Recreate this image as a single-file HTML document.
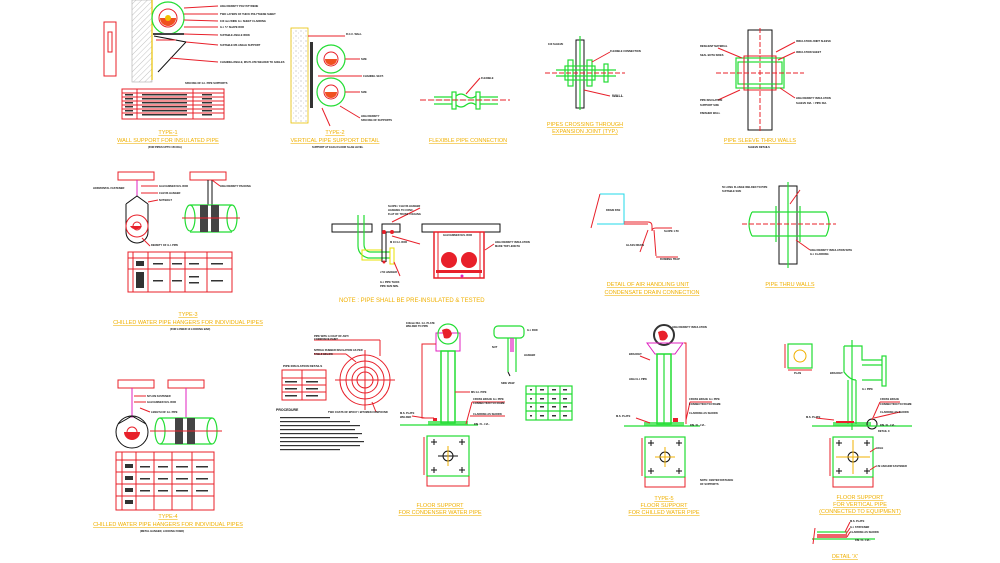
<!DOCTYPE html>
<html><head><meta charset="utf-8"><style>
html,body{margin:0;padding:0;background:#fff;}
svg{display:block}
.r{stroke:#e8202a;fill:none;stroke-width:1}
.g{stroke:#22dd33;fill:none;stroke-width:1.2}
.k{stroke:#111;fill:none;stroke-width:1}
.m{stroke:#e020c0;fill:none;stroke-width:1}
.c{stroke:#22d8e8;fill:none;stroke-width:1}
.t{font-family:"Liberation Sans",sans-serif;font-size:5.5px;fill:#f0b000;text-anchor:middle;text-decoration:underline}
.s{font-family:"Liberation Sans",sans-serif;font-size:2.6px;fill:#111;font-weight:bold}
.n{font-family:"Liberation Sans",sans-serif;font-size:6px;fill:#f0b000;}
</style></head><body>
<svg width="1000" height="563" viewBox="0 0 1000 563" xmlns="http://www.w3.org/2000/svg">
<defs>
<pattern id="h" width="4" height="4" patternUnits="userSpaceOnUse" patternTransform="rotate(45)"><line x1="0" y1="0" x2="0" y2="4" stroke="#999" stroke-width="0.6"/></pattern>
<pattern id="d" width="5" height="5" patternUnits="userSpaceOnUse"><circle cx="1" cy="1" r="0.5" fill="#888"/><circle cx="3.5" cy="3" r="0.4" fill="#aaa"/></pattern>
</defs>

<!-- ===== TYPE-1 ===== -->
<rect x="104" y="22" width="12" height="54" class="r"/><rect x="108" y="32" width="4" height="20" class="r"/>
<rect x="132" y="0" width="20" height="82" fill="url(#h)" stroke="#aaa" stroke-width="0.6"/>
<line x1="152" y1="0" x2="152" y2="80" stroke="#e8c000" stroke-width="1.2"/>
<circle cx="168" cy="18" r="16" fill="#ddd" class="g"/><circle cx="168" cy="18" r="9" fill="#fff" class="r"/><path d="M160 18 a8 8 0 0 0 16 0z" fill="#f05020"/><circle cx="168" cy="18" r="3" fill="#f0c000"/>
<rect x="153" y="33" width="31" height="2" fill="#444"/>
<path d="M154 36 L186 42 L158 72" class="k" stroke-width="2"/><path d="M156 40 L176 40" class="r"/>
<g class="r"><line x1="184" y1="8" x2="218" y2="6"/><line x1="184" y1="14" x2="218" y2="14"/><line x1="184" y1="20" x2="218" y2="21"/><line x1="184" y1="27" x2="218" y2="27"/><line x1="184" y1="34" x2="218" y2="35"/><line x1="186" y1="42" x2="218" y2="45"/><line x1="170" y1="58" x2="218" y2="62"/></g>
<g class="s"><text x="220" y="7">HIGH DENSITY POLYSTYRENE</text><text x="220" y="15">TWO LAYERS OF THICK POLYTHENE SHEET</text><text x="220" y="22">100 mm WIDE G.I. SHEET CLADDING</text><text x="220" y="28">G.I. 'U' SHAPE ROD</text><text x="220" y="36">SUITABLE ANGLE IRON</text><text x="220" y="46">SUITABLE MS ANGLE SUPPORT</text><text x="220" y="63">CHANNEL/ANGLE, MS PLATE WELDED TO ANGLES</text></g>
<text class="s" x="185" y="84">SPACING OF G.I. PIPE SUPPORTS</text>
<g class="r"><rect x="122" y="89" width="102" height="30"/><line x1="122" y1="93" x2="224" y2="93"/><line x1="122" y1="97" x2="224" y2="97"/><line x1="122" y1="101" x2="224" y2="101"/><line x1="122" y1="105" x2="224" y2="105"/><line x1="122" y1="109" x2="224" y2="109"/><line x1="122" y1="113" x2="224" y2="113"/><line x1="137" y1="89" x2="137" y2="119"/><line x1="193" y1="89" x2="193" y2="119"/></g>
<g fill="#333"><rect x="125" y="94" width="8" height="1.5"/><rect x="125" y="98" width="8" height="1.5"/><rect x="125" y="102" width="8" height="1.5"/><rect x="125" y="106" width="8" height="1.5"/><rect x="125" y="110" width="8" height="1.5"/><rect x="125" y="114" width="8" height="1.5"/><rect x="142" y="94" width="45" height="1.5"/><rect x="142" y="98" width="45" height="1.5"/><rect x="142" y="102" width="45" height="1.5"/><rect x="142" y="106" width="45" height="1.5"/><rect x="142" y="110" width="45" height="1.5"/><rect x="142" y="114" width="45" height="1.5"/><rect x="202" y="94" width="10" height="1.5"/><rect x="202" y="98" width="10" height="1.5"/><rect x="202" y="102" width="10" height="1.5"/><rect x="202" y="106" width="10" height="1.5"/><rect x="202" y="110" width="10" height="1.5"/><rect x="202" y="114" width="10" height="1.5"/></g>
<text class="t" x="168" y="134">TYPE-1</text><text class="t" x="168" y="142">WALL SUPPORT FOR INSULATED PIPE</text><text class="s" x="148" y="148">(FOR PIPES UPTO 150 DIA)</text>

<!-- ===== TYPE-2 ===== -->
<rect x="291" y="28" width="17" height="95" fill="url(#d)" stroke="#e8c000" stroke-width="0.8"/>
<rect x="310" y="42" width="3" height="66" fill="#333"/>
<circle cx="331" cy="59" r="14" fill="#ddd" class="g"/><circle cx="331" cy="59" r="7" fill="#fff" class="r"/><path d="M325 59 a6 6 0 0 0 12 0z" fill="#f05020"/>
<circle cx="331" cy="92" r="14" fill="#ddd" class="g"/><circle cx="331" cy="92" r="7" fill="#fff" class="r"/><path d="M325 92 a6 6 0 0 0 12 0z" fill="#f05020"/>
<g class="r"><line x1="308" y1="36" x2="345" y2="36"/><line x1="345" y1="59" x2="360" y2="59"/><line x1="318" y1="76" x2="362" y2="76"/><line x1="345" y1="92" x2="360" y2="92"/><line x1="340" y1="106" x2="360" y2="118"/><line x1="322" y1="108" x2="330" y2="126"/></g>
<g class="s"><text x="346" y="35">R.C.C. WALL</text><text x="361" y="60">SIZE</text><text x="363" y="77">CHANNEL SECT.</text><text x="361" y="93">SIZE</text><text x="361" y="117">HIGH DENSITY</text><text x="361" y="121">SPACING OF SUPPORTS</text></g>
<text class="t" x="335" y="134">TYPE-2</text><text class="t" x="335" y="142">VERTICAL PIPE SUPPORT DETAIL</text><text class="s" x="312" y="148">SUPPORT AT EACH FLOOR SLAB LEVEL</text>

<!-- ===== FLEXIBLE ===== -->
<line x1="434" y1="100" x2="498" y2="100" class="g" stroke-width="6" stroke="#22dd33" opacity="0.25"/>
<g class="g"><line x1="434" y1="97" x2="452" y2="97"/><line x1="434" y1="104" x2="452" y2="104"/><line x1="480" y1="97" x2="498" y2="97"/><line x1="480" y1="104" x2="498" y2="104"/><rect x="452" y="92" width="4" height="17"/><rect x="476" y="92" width="4" height="17"/><path d="M456 96 q5 -4 10 0 q5 4 10 0 M456 105 q5 4 10 0 q5 -4 10 0"/></g>
<line x1="420" y1="100" x2="510" y2="100" class="r" stroke-dasharray="6 2"/>
<line x1="466" y1="94" x2="480" y2="78" class="r"/><text class="s" x="481" y="79">FLEXIBLE</text>
<text class="t" x="468" y="142">FLEXIBLE PIPE CONNECTION</text>

<!-- ===== PIPES CROSSING ===== -->
<rect x="576" y="40" width="8" height="68" fill="url(#h)" class="k"/>
<g class="g"><rect x="565" y="66" width="30" height="14"/><rect x="568" y="60" width="5" height="26"/><rect x="587" y="60" width="5" height="26"/><line x1="556" y1="70" x2="616" y2="70"/><line x1="556" y1="76" x2="616" y2="76"/><rect x="604" y="64" width="4" height="18"/></g>
<line x1="580" y1="36" x2="580" y2="110" class="g"/><line x1="545" y1="73" x2="625" y2="73" class="r" stroke-dasharray="5 2"/>
<g class="r"><line x1="592" y1="62" x2="610" y2="52"/><line x1="584" y1="90" x2="610" y2="96"/></g>
<g class="s"><text x="610" y="52">FLEXIBLE CONNECTION</text><text x="612" y="97" style="font-size:4px">WALL</text><text x="548" y="45">100 SLEEVE</text></g>
<text class="t" x="585" y="126">PIPES CROSSING THROUGH</text><text class="t" x="585" y="133">EXPANSION JOINT (TYP.)</text>

<!-- ===== PIPE SLEEVE THRU WALLS ===== -->
<rect x="748" y="30" width="24" height="100" fill="url(#h)" class="k"/>
<line x1="760" y1="28" x2="760" y2="132" class="r" stroke-dasharray="5 2"/>
<rect x="736" y="58" width="48" height="30" fill="#c8c8c8" class="g"/>
<rect x="738" y="62" width="44" height="22" fill="#fff" class="g" stroke-width="2"/>
<rect x="744" y="56" width="32" height="34" fill="none" class="r"/>
<line x1="716" y1="73" x2="804" y2="73" class="r" stroke-dasharray="5 2"/>
<g class="r"><line x1="776" y1="52" x2="795" y2="42"/><line x1="778" y1="60" x2="795" y2="52"/><line x1="742" y1="58" x2="718" y2="48"/><line x1="780" y1="88" x2="795" y2="98"/><line x1="740" y1="90" x2="718" y2="100"/></g>
<g class="s"><text x="796" y="42">INSULATION JOINT SLEEVE</text><text x="796" y="53">INSULATION SHEET</text><text x="700" y="47">RESILIENT MATERIAL</text><text x="700" y="56">SEAL BOTH SIDES</text><text x="796" y="99">HIGH DENSITY INSULATION</text><text x="796" y="104">SLEEVE DIA. = PIPE DIA.</text><text x="700" y="101">PIPE INSULATION</text><text x="700" y="106">SUPPORT SIZE</text><text x="700" y="114">FINISHED WALL</text></g>
<text class="t" x="760" y="142">PIPE SLEEVE THRU WALLS</text><text class="s" x="748" y="148">SLEEVE DETAILS</text>

<!-- ===== TYPE-3 ===== -->
<rect x="118" y="172" width="36" height="8" fill="url(#d)" class="r"/>
<rect x="190" y="172" width="36" height="8" fill="url(#d)" class="r"/>
<line x1="137" y1="180" x2="137" y2="196" class="m" stroke-width="2"/>
<path d="M126 204 L137 196 L148 204" class="k"/>
<path d="M126 204 L126 232 A11 11 0 0 0 148 232 L148 204" class="k"/>
<circle cx="137" cy="226" r="11" fill="#ddd" class="r"/><path d="M130 226 a7 7 0 0 0 12 0z" fill="#e8202a"/><circle cx="137" cy="226" r="4" fill="#fff" class="r"/>
<line x1="208" y1="180" x2="208" y2="205" class="k"/><line x1="212" y1="180" x2="212" y2="205" class="k"/>
<g class="g"><line x1="190" y1="205" x2="232" y2="205"/><line x1="190" y1="232" x2="232" y2="232"/><ellipse cx="190" cy="218" rx="5" ry="13"/><ellipse cx="232" cy="218" rx="5" ry="13"/></g>
<rect x="200" y="205" width="8" height="27" fill="#444"/><rect x="211" y="205" width="8" height="27" fill="#444"/>
<line x1="182" y1="218" x2="240" y2="218" class="r"/>
<g class="r"><line x1="141" y1="186" x2="158" y2="186"/><line x1="141" y1="193" x2="158" y2="193"/><line x1="148" y1="202" x2="158" y2="200"/><line x1="212" y1="180" x2="220" y2="186"/><line x1="142" y1="238" x2="150" y2="246"/></g>
<g class="s"><text x="93" y="189">HORIZONTAL FASTENER</text><text x="159" y="187">GALVANISED M.S. ROD</text><text x="159" y="194">CLEVIS HANGER</text><text x="159" y="201">NUT/BOLT</text><text x="220" y="187">HIGH DENSITY PACKING</text><text x="151" y="246">DENSITY OF G.I. PIPE</text></g>
<g class="r"><rect x="128" y="252" width="104" height="40"/><line x1="128" y1="258" x2="232" y2="258"/><line x1="128" y1="269" x2="232" y2="269"/><line x1="133" y1="252" x2="133" y2="292"/><line x1="148" y1="252" x2="148" y2="292"/><line x1="170" y1="252" x2="170" y2="292"/><line x1="185" y1="252" x2="185" y2="292"/><line x1="207" y1="252" x2="207" y2="292"/></g>
<g fill="#333"><rect x="136" y="261" width="8" height="5"/><rect x="136" y="272" width="8" height="16"/><rect x="153" y="263" width="10" height="1.5"/><rect x="153" y="280" width="10" height="1.5"/><rect x="172" y="263" width="10" height="1.5"/><rect x="172" y="280" width="10" height="1.5"/><rect x="189" y="263" width="10" height="1.5"/><rect x="189" y="276" width="10" height="1.5"/><rect x="189" y="282" width="10" height="1.5"/><rect x="211" y="263" width="12" height="1.5"/><rect x="211" y="280" width="12" height="1.5"/></g>
<text class="t" x="188" y="316">TYPE-3</text><text class="t" x="188" y="324">CHILLED WATER PIPE HANGERS FOR INDIVIDUAL PIPES</text><text class="s" x="170" y="330">(FOR LOWER 10 LOCKING BAR)</text>

<!-- ===== NOTE / center hanger ===== -->
<rect x="332" y="224" width="40" height="8" fill="url(#d)" class="k"/>
<rect x="382" y="224" width="18" height="8" fill="url(#d)" class="k"/>
<rect x="422" y="224" width="78" height="8" fill="url(#d)" class="k"/>
<g class="g"><path d="M358 215 L358 246 Q358 255 368 258 L390 258"/><path d="M364 215 L364 244 Q364 251 370 252 L390 252"/></g>
<rect x="362" y="250" width="20" height="10" class="r" style="stroke:#e8e000"/>
<rect x="390" y="248" width="4" height="16" class="r" style="stroke:#e8e000"/>
<line x1="382" y1="232" x2="382" y2="262" class="k"/><line x1="386" y1="232" x2="386" y2="262" class="k"/>
<circle cx="384" cy="232" r="2" fill="#e8202a"/><circle cx="392" cy="232" r="2" fill="#e8202a"/><circle cx="384" cy="262" r="1.5" fill="#e8202a"/>
<g class="r"><rect x="434" y="232" width="50" height="46" stroke-width="1.5"/><line x1="438" y1="232" x2="438" y2="278"/><line x1="480" y1="232" x2="480" y2="278"/></g>
<circle cx="449" cy="260" r="8" fill="#e8202a"/><circle cx="449" cy="260" r="4" fill="#fff" class="r"/>
<circle cx="469" cy="260" r="8" fill="#e8202a"/><circle cx="469" cy="260" r="4" fill="#fff" class="r"/>
<rect x="436" y="270" width="46" height="3" fill="#e8202a"/>
<circle cx="462" cy="276" r="1.5" fill="#e020c0"/>
<g class="r"><line x1="392" y1="222" x2="420" y2="208"/><line x1="392" y1="236" x2="420" y2="244"/><line x1="485" y1="250" x2="494" y2="244"/><line x1="394" y1="262" x2="400" y2="276"/></g>
<g class="s"><text x="388" y="207">SLOPE / CLEVIS HANGER</text><text x="388" y="211">HANGING TO CONC.</text><text x="388" y="215">FLAT OF TRUSS / CEILING</text><text x="443" y="236">GALVANISED M.S. ROD</text><text x="495" y="243">HIGH DENSITY INSULATION</text><text x="495" y="247">MADE TOP LENGTH</text><text x="380" y="273">J 50 HANGER</text><text x="380" y="283">G.I. PIPE THICK</text><text x="380" y="287">PIPE SIZE MIN.</text><text x="390" y="243">M 10 G.I. ROD</text></g>
<text class="n" x="339" y="302">NOTE : PIPE SHALL BE PRE-INSULATED &amp; TESTED</text>

<!-- ===== AHU DRAIN ===== -->
<path d="M600 194 L591 228" class="r"/>
<path d="M600 194 L624 194 L624 224 L597 224" class="c"/>
<path d="M624 222 L648 222 Q652 222 652 226 L652 231 Q652 228 656 228 L672 228" class="r"/>
<path d="M624 224 L648 224" class="r"/>
<line x1="648" y1="230" x2="640" y2="252" class="r"/><line x1="654" y1="230" x2="656" y2="256" class="r"/>
<line x1="656" y1="257" x2="678" y2="257" class="r"/>
<g class="s"><text x="606" y="211">DRAIN PAN</text><text x="664" y="232">SLOPE 1:50</text><text x="626" y="246">GLASS DRAIN</text><text x="660" y="260">RUNNING TRAP</text></g>
<text class="t" x="648" y="286">DETAIL OF AIR HANDLING UNIT</text><text class="t" x="652" y="294">CONDENSATE DRAIN CONNECTION</text>

<!-- ===== PIPE THRU WALLS ===== -->
<rect x="779" y="186" width="18" height="78" fill="url(#h)" class="k"/>
<g class="g"><line x1="752" y1="212" x2="826" y2="212"/><line x1="752" y1="236" x2="826" y2="236"/><path d="M752 212 q-6 12 0 24 M826 212 q6 12 0 24"/><line x1="776" y1="206" x2="776" y2="242"/><line x1="800" y1="206" x2="800" y2="242"/></g>
<line x1="788" y1="182" x2="788" y2="268" class="g"/><line x1="742" y1="224" x2="836" y2="224" class="r" stroke-dasharray="5 2"/>
<g class="r"><line x1="790" y1="204" x2="800" y2="190"/><line x1="796" y1="240" x2="810" y2="250"/></g>
<g class="s"><text x="722" y="188">50 LONG FLANGE WELDED TO PIPE</text><text x="722" y="192">SUITABLE SIZE</text><text x="810" y="251">HIGH DENSITY INSULATION WITH</text><text x="810" y="255">G.I. CLADDING</text></g>
<text class="t" x="790" y="286">PIPE THRU WALLS</text>

<!-- ===== TYPE-4 ===== -->
<rect x="118" y="380" width="36" height="8" fill="url(#d)" class="r"/>
<rect x="168" y="380" width="36" height="8" fill="url(#d)" class="r"/>
<line x1="132" y1="388" x2="132" y2="418" class="m" stroke-width="1.5"/>
<line x1="186" y1="388" x2="186" y2="418" class="m" stroke-width="1.5"/>
<circle cx="132" cy="432" r="16" fill="#ddd" class="k"/><path d="M124 432 a8 8 0 0 0 16 0z" fill="#e8202a"/><circle cx="132" cy="432" r="5" fill="#fff" class="r"/>
<path d="M118 424 L132 416 L146 424" class="k"/>
<g class="g"><line x1="160" y1="418" x2="212" y2="418"/><line x1="160" y1="444" x2="212" y2="444"/><ellipse cx="160" cy="431" rx="5" ry="13"/><ellipse cx="212" cy="431" rx="5" ry="13"/></g>
<rect x="175" y="418" width="8" height="26" fill="#444"/><rect x="187" y="418" width="8" height="26" fill="#444"/>
<line x1="150" y1="431" x2="222" y2="431" class="r"/>
<g class="r"><line x1="134" y1="396" x2="146" y2="396"/><line x1="134" y1="402" x2="146" y2="402"/><line x1="140" y1="408" x2="150" y2="412"/></g>
<g class="s"><text x="147" y="397">NYLON FASTENER</text><text x="147" y="403">GALVANISED M.S. ROD</text><text x="151" y="413">LENGTH OF G.I. PIPE</text></g>
<g class="r"><rect x="116" y="452" width="98" height="58"/><line x1="116" y1="460" x2="214" y2="460"/><line x1="116" y1="472" x2="214" y2="472"/><line x1="116" y1="484" x2="214" y2="484"/><line x1="116" y1="496" x2="214" y2="496"/><line x1="122" y1="452" x2="122" y2="510"/><line x1="136" y1="452" x2="136" y2="510"/><line x1="154" y1="452" x2="154" y2="510"/><line x1="172" y1="452" x2="172" y2="510"/><line x1="192" y1="452" x2="192" y2="510"/></g>
<g fill="#333"><rect x="125" y="464" width="8" height="4"/><rect x="125" y="476" width="8" height="4"/><rect x="125" y="488" width="8" height="4"/><rect x="125" y="500" width="8" height="4"/><rect x="140" y="466" width="10" height="1.5"/><rect x="140" y="478" width="10" height="1.5"/><rect x="140" y="490" width="10" height="1.5"/><rect x="158" y="466" width="10" height="1.5"/><rect x="158" y="478" width="10" height="1.5"/><rect x="158" y="490" width="10" height="1.5"/><rect x="176" y="466" width="12" height="1.5"/><rect x="176" y="478" width="12" height="1.5"/><rect x="176" y="490" width="12" height="1.5"/><rect x="196" y="466" width="12" height="1.5"/><rect x="196" y="478" width="12" height="1.5"/><rect x="196" y="490" width="12" height="1.5"/></g>
<text class="t" x="168" y="518">TYPE-4</text><text class="t" x="168" y="526">CHILLED WATER PIPE HANGERS FOR INDIVIDUAL PIPES</text><text class="s" x="140" y="532">(METAL HANGER, LOCKING FIXED)</text>

<!-- ===== PIPE INSULATION DETAILS ===== -->
<circle cx="365" cy="380" r="25" class="r"/><circle cx="365" cy="380" r="19" class="r"/><circle cx="365" cy="380" r="13" class="r"/><circle cx="365" cy="380" r="8" class="r"/>
<line x1="335" y1="380" x2="395" y2="380" class="r"/><line x1="365" y1="350" x2="365" y2="410" class="r"/>
<g class="r"><line x1="314" y1="340" x2="380" y2="340"/><line x1="380" y1="340" x2="380" y2="356"/><line x1="314" y1="354" x2="346" y2="354"/><line x1="346" y1="354" x2="356" y2="362"/><line x1="372" y1="402" x2="376" y2="412"/></g>
<g class="s"><text x="314" y="337">PIPE WITH A COAT OF ANTI</text><text x="314" y="340">CORROSIVE PAINT</text><text x="314" y="351">NITRILE RUBBER INSULATION AS PER</text><text x="314" y="355">TABLE BELOW</text><text x="328" y="413">TWO COATS OF EPOXY / BITUMEN COMPOUND</text><text x="276" y="411" style="font-size:3.5px">PROCEDURE</text></g>
<text class="s" x="283" y="367" style="font-size:3px">PIPE INSULATION DETAILS</text>
<g class="r"><rect x="282" y="370" width="44" height="30"/><line x1="282" y1="378" x2="326" y2="378"/><line x1="282" y1="385" x2="326" y2="385"/><line x1="282" y1="392" x2="326" y2="392"/><line x1="302" y1="370" x2="302" y2="400"/></g>
<g fill="#333"><rect x="285" y="381" width="12" height="1.5"/><rect x="285" y="388" width="12" height="1.5"/><rect x="285" y="395" width="12" height="1.5"/><rect x="306" y="381" width="12" height="1.5"/><rect x="306" y="388" width="12" height="1.5"/><rect x="306" y="395" width="12" height="1.5"/></g>
<g fill="#333"><rect x="280" y="417" width="50" height="1.2"/><rect x="280" y="421" width="70" height="1.2"/><rect x="280" y="425" width="80" height="1.2"/><rect x="280" y="429" width="75" height="1.2"/><rect x="280" y="433" width="82" height="1.2"/><rect x="280" y="437" width="78" height="1.2"/><rect x="280" y="441" width="84" height="1.2"/><rect x="280" y="445" width="80" height="1.2"/><rect x="280" y="449" width="60" height="1.2"/></g>

<!-- ===== FLOOR SUPPORT CONDENSER ===== -->
<rect x="436" y="333" width="24" height="18" fill="none" class="m"/>
<circle cx="448" cy="334" r="10" fill="#fff" class="g" stroke-width="1.5"/><path d="M442 330 q8 -4 10 4 q-2 6 -8 4z" fill="#e8202a"/>
<g class="g"><rect x="441" y="351" width="14" height="72" stroke-width="1.5"/><line x1="448" y1="351" x2="448" y2="423"/></g>
<rect x="428" y="421" width="40" height="4" fill="#22dd33" opacity="0.7"/>
<line x1="400" y1="425" x2="478" y2="425" class="g" stroke-width="0.6"/>
<path d="M436 344 L422 344 L422 418 L434 418" class="r"/>
<rect x="433" y="418" width="4" height="3" fill="#e8202a"/>
<g class="r"><line x1="466" y1="424" x2="472" y2="402"/><line x1="472" y1="402" x2="505" y2="402"/><line x1="470" y1="416" x2="505" y2="416"/><line x1="455" y1="392" x2="470" y2="392"/><line x1="425" y1="418" x2="412" y2="416"/></g>
<g class="s"><text x="406" y="324">100mm DIA. G.I. PLATE</text><text x="406" y="327">WELDED TO PIPE</text><text x="471" y="393">MS G.I. PIPE</text><text x="473" y="400">CROSS BRACE G.I. PIPE</text><text x="473" y="404">CONNECTION TO FRAME</text><text x="473" y="415">CLADDING AS SHOWN</text><text x="474" y="425">FIN. FL. LVL.</text><text x="400" y="414">M.S. PLATE</text><text x="400" y="418">WELDED</text></g>
<rect x="427" y="436" width="42" height="40" class="g"/>
<path d="M424 437 L424 475 M427 476 L427 486 L469 486 L469 476" class="r"/>
<circle cx="448" cy="456" r="5" class="k" stroke-width="1.5"/>
<g class="k"><line x1="438" y1="456" x2="458" y2="456"/><path d="M431 442 h6 m-3 -3 v6 M459 442 h6 m-3 -3 v6 M431 470 h6 m-3 -3 v6 M459 470 h6 m-3 -3 v6"/></g>
<line x1="448" y1="446" x2="448" y2="466" stroke="#f0b000"/>
<text class="t" x="440" y="507">FLOOR SUPPORT</text><text class="t" x="440" y="514">FOR CONDENSER WATER PIPE</text>

<!-- pipe detail + small table -->
<g class="g"><rect x="494" y="326" width="30" height="12" rx="4"/><line x1="508" y1="338" x2="508" y2="372"/><line x1="516" y1="338" x2="516" y2="372"/></g>
<rect x="510" y="338" width="4" height="14" fill="#e020c0" opacity="0.6"/>
<line x1="508" y1="372" x2="510" y2="376" class="k"/>
<g class="s"><text x="527" y="331">G.I. ROD</text><text x="492" y="348">NUT</text><text x="524" y="356">HANGER</text><text x="501" y="384">SIDE VIEW</text></g>
<g class="g"><rect x="526" y="386" width="46" height="34"/><line x1="526" y1="394" x2="572" y2="394"/><line x1="526" y1="403" x2="572" y2="403"/><line x1="526" y1="411" x2="572" y2="411"/><line x1="536" y1="386" x2="536" y2="420"/><line x1="548" y1="386" x2="548" y2="420"/><line x1="560" y1="386" x2="560" y2="420"/></g>
<g fill="#333"><rect x="530" y="389" width="2" height="1.5"/><rect x="540" y="389" width="4" height="1.5"/><rect x="552" y="389" width="4" height="1.5"/><rect x="563" y="389" width="4" height="1.5"/><rect x="530" y="398" width="2" height="1.5"/><rect x="540" y="398" width="4" height="1.5"/><rect x="552" y="398" width="4" height="1.5"/><rect x="563" y="398" width="4" height="1.5"/><rect x="530" y="406" width="2" height="1.5"/><rect x="540" y="406" width="4" height="1.5"/><rect x="552" y="406" width="4" height="1.5"/><rect x="563" y="406" width="4" height="1.5"/><rect x="530" y="415" width="2" height="1.5"/><rect x="540" y="415" width="4" height="1.5"/><rect x="552" y="415" width="4" height="1.5"/><rect x="563" y="415" width="4" height="1.5"/></g>

<!-- ===== TYPE-5 ===== -->
<circle cx="664" cy="335" r="10" fill="#fff" stroke="#333" stroke-width="2"/><path d="M658 332 q8 -4 10 4 q-2 6 -8 4z" fill="#e8202a"/>
<path d="M647 343 L683 343 L675 354 L655 354 Z" class="m"/>
<g class="g"><rect x="657" y="354" width="14" height="70" stroke-width="1.5"/><line x1="664" y1="354" x2="664" y2="424"/></g>
<rect x="644" y="422" width="40" height="4" fill="#22dd33" opacity="0.7"/>
<line x1="624" y1="426" x2="700" y2="426" class="g" stroke-width="0.6"/>
<path d="M684 343 L686 343 L686 424" class="r"/>
<rect x="673" y="418" width="5" height="4" fill="#e8202a"/>
<g class="r"><line x1="650" y1="360" x2="640" y2="356"/><line x1="686" y1="420" x2="690" y2="402"/><line x1="690" y1="402" x2="712" y2="402"/><line x1="650" y1="423" x2="636" y2="418"/></g>
<g class="s"><text x="672" y="328">HIGH DENSITY INSULATION</text><text x="629" y="355">BRACKET</text><text x="629" y="380">HIGH G.I. PIPE</text><text x="689" y="400">CROSS BRACE G.I. PIPE</text><text x="689" y="405">CONNECTION TO FRAME</text><text x="689" y="414">CLADDING AS SHOWN</text><text x="690" y="426">FIN. FL. LVL.</text><text x="616" y="417">M.S. PLATE</text><text x="700" y="481">NOTE: CENTER DISTANCE</text><text x="700" y="485">OF SUPPORTS</text></g>
<rect x="645" y="437" width="40" height="40" class="g"/>
<path d="M642 438 L642 476 M645 477 L645 487 L685 487 L685 477" class="r"/>
<circle cx="665" cy="457" r="5" class="k" stroke-width="1.5"/>
<g stroke="#f0b000"><line x1="655" y1="457" x2="675" y2="457"/><line x1="665" y1="447" x2="665" y2="467"/></g>
<g class="k"><path d="M648 443 h6 m-3 -3 v6 M676 443 h6 m-3 -3 v6 M648 471 h6 m-3 -3 v6 M676 471 h6 m-3 -3 v6"/></g>
<text class="t" x="664" y="500">TYPE-5</text><text class="t" x="664" y="507">FLOOR SUPPORT</text><text class="t" x="664" y="514">FOR CHILLED WATER PIPE</text>

<!-- ===== FLOOR SUPPORT VERTICAL ===== -->
<rect x="788" y="344" width="24" height="24" class="g"/><circle cx="800" cy="356" r="6" stroke="#f0b000" fill="none"/>
<path d="M785 344 L785 368 M788 370 L812 370" class="r"/>
<g class="g"><path d="M844 346 L862 346 L862 360 L882 360 M844 346 L844 372 Q850 380 856 380 M848 380 L848 424 M856 380 L856 424 M862 365 L882 365 M862 380 L882 380"/><rect x="882" y="356" width="4" height="30"/></g>
<line x1="852" y1="340" x2="852" y2="430" class="g" stroke-width="0.6"/>
<rect x="833" y="422" width="38" height="4" fill="#22dd33" opacity="0.7"/>
<rect x="836" y="421" width="18" height="2" fill="#e8202a"/>
<circle cx="872" cy="424" r="5" class="k"/>
<line x1="812" y1="426" x2="912" y2="426" class="g" stroke-width="0.6"/>
<g class="r"><line x1="872" y1="420" x2="880" y2="402"/><line x1="880" y1="402" x2="900" y2="402"/><line x1="874" y1="418" x2="900" y2="412"/><line x1="834" y1="420" x2="816" y2="418"/></g>
<g class="s"><text x="830" y="374">BRACKET</text><text x="862" y="390">G.I. PIPE</text><text x="880" y="400">CROSS BRACE</text><text x="880" y="405">CONNECTION TO FRAME</text><text x="880" y="413">CLADDING AS SHOWN</text><text x="880" y="426">FIN. FL. LVL.</text><text x="878" y="432">DETAIL X</text><text x="806" y="418">M.S. PLATE</text><text x="794" y="374">PLAN</text></g>
<rect x="833" y="437" width="40" height="40" class="g"/>
<path d="M830 438 L830 476 M833 477 L833 487 L873 487 L873 477" class="r"/>
<circle cx="853" cy="457" r="5" class="k" stroke-width="1.5"/>
<g stroke="#f0b000"><line x1="836" y1="457" x2="870" y2="457"/><line x1="853" y1="440" x2="853" y2="474"/></g>
<g class="k"><path d="M836 443 h6 m-3 -3 v6 M864 443 h6 m-3 -3 v6 M836 471 h6 m-3 -3 v6 M864 471 h6 m-3 -3 v6"/></g>
<g class="r"><line x1="870" y1="452" x2="876" y2="448"/><line x1="870" y1="470" x2="876" y2="466"/></g>
<g class="s"><text x="876" y="449">HOLE</text><text x="876" y="467">4 M ANCHOR FASTENER</text></g>
<text class="t" x="860" y="499">FLOOR SUPPORT</text><text class="t" x="860" y="506">FOR VERTICAL PIPE</text><text class="t" x="860" y="513">(CONNECTED TO EQUIPMENT)</text>

<!-- Detail X -->
<rect x="817" y="534" width="30" height="4" fill="#e8202a" opacity="0.7"/>
<line x1="812" y1="539" x2="875" y2="539" class="g" stroke-width="1.5"/>
<line x1="817" y1="532" x2="847" y2="532" class="g"/>
<line x1="815" y1="528" x2="813" y2="544" class="r"/>
<g class="r"><line x1="845" y1="532" x2="850" y2="522"/><line x1="846" y1="534" x2="850" y2="528"/><line x1="847" y1="537" x2="850" y2="532"/></g>
<g class="s"><text x="850" y="522">M.S. PLATE</text><text x="850" y="528">G.I. STIFFENER</text><text x="850" y="533">CLADDING AS SHOWN</text><text x="855" y="541">FIN. FL. LVL.</text></g>
<text class="t" x="845" y="558">DETAIL 'X'</text>
</svg>
</body></html>
